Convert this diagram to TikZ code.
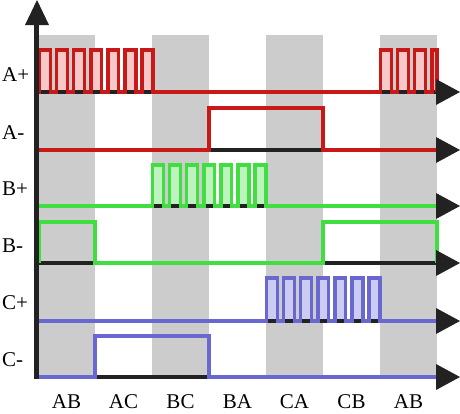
\documentclass[tikz,border=0pt]{standalone}
\usepackage{fontspec}
\setmainfont{Liberation Serif}
\definecolor{bandgray}{RGB}{204,204,204}
\definecolor{axisblack}{RGB}{34,34,34}
\definecolor{sigred}{RGB}{200,24,24}
\definecolor{redfill}{RGB}{248,200,200}
\definecolor{siggreen}{RGB}{64,222,64}
\definecolor{greenfill}{RGB}{190,242,190}
\definecolor{sigblue}{RGB}{104,104,208}
\definecolor{bluefill}{RGB}{204,204,242}
\begin{document}
\begin{tikzpicture}[x=1pt,y=-1pt,
  band/.style={fill=bandgray},
  axisline/.style={draw=axisblack,line width=4.5pt},
  baseblack/.style={draw=axisblack,line width=3.5pt},
  sig/.style={line width=3.5pt,line join=miter},
  tiphead/.style={fill=axisblack},
  lbl/.style={font=\fontsize{21}{21}\selectfont,inner sep=0pt,anchor=base west},
  tlbl/.style={font=\fontsize{21}{21}\selectfont,inner sep=0pt,anchor=base}]
\useasboundingbox (0,0) rectangle (460,413);
% gray bands
\foreach \x in {38,152,266,380} \fill[band] (\x,35) rectangle ++(57,343);
% pulse fills
\foreach \i in {0,...,6} {
  \fill[redfill] ({39.5+17.1*\i},92) rectangle ++(10.8,-42);
  \fill[greenfill] ({152.5+17.1*\i},206) rectangle ++(10.8,-41);
  \fill[bluefill] ({266.5+17.1*\i},321) rectangle ++(10.8,-43);
}
\foreach \i in {0,...,2} \fill[redfill] ({380.5+17.1*\i},92) rectangle ++(10.8,-42);
\fill[redfill] (431.8,92) rectangle (437,50);
% black baselines
\foreach \b in {92,150,206,263,321,377} \draw[baseblack] (38,\b) -- (437,\b);
% A+
\draw[sig,sigred] (38,92)
  \foreach \i in {0,...,6} { -- ({39.5+17.1*\i},92) -- ++(0,-42) -- ++(10.8,0) -- ++(0,42) }
  \foreach \i in {0,...,2} { -- ({380.5+17.1*\i},92) -- ++(0,-42) -- ++(10.8,0) -- ++(0,42) }
  -- (431.8,92) -- (431.8,50) -- (437,50) -- (437,92);
% A-
\draw[sig,sigred] (38,150) -- (209,150) -- (209,108) -- (323,108) -- (323,150) -- (437,150);
% B+
\draw[sig,siggreen] (38,206)
  \foreach \i in {0,...,6} { -- ({152.5+17.1*\i},206) -- ++(0,-41) -- ++(10.8,0) -- ++(0,41) }
  -- (437,206);
% B-
\draw[sig,siggreen] (39.5,263) -- (39.5,222) -- (95,222) -- (95,263) -- (323,263) -- (323,222) -- (437,222) -- (437,263);
% C+
\draw[sig,sigblue] (38,321)
  \foreach \i in {0,...,6} { -- ({266.5+17.1*\i},321) -- ++(0,-43) -- ++(10.8,0) -- ++(0,43) }
  -- (437,321);
% C-
\draw[sig,sigblue] (38,377) -- (95,377) -- (95,336) -- (209,336) -- (209,377) -- (437,377);
% arrow heads
\foreach \b in {92,150,206,263,321,377} \fill[tiphead] (436,\b-13) -- (460,\b) -- (436,\b+13) -- cycle;
% vertical axis
\draw[axisline] (36.5,379) -- (36.5,22);
\fill[tiphead] (25,25) -- (37,0) -- (49,25) -- cycle;
% lane labels
\node[lbl] (lap) at (2,81) {A+};
\node[lbl] (lam) at (2,139) {A-};
\node[lbl] (lbp) at (2,195) {B+};
\node[lbl] (lbm) at (2,252) {B-};
\node[lbl] (lcp) at (2,309) {C+};
\node[lbl] (lcm) at (2,366) {C-};
% step labels
\node[tlbl] (s1) at (66.5,408) {AB};
\node[tlbl] (s2) at (123.5,408) {AC};
\node[tlbl] (s3) at (180.5,408) {BC};
\node[tlbl] (s4) at (237.5,408) {BA};
\node[tlbl] (s5) at (294.5,408) {CA};
\node[tlbl] (s6) at (351.5,408) {CB};
\node[tlbl] (s7) at (408.5,408) {AB};
\end{tikzpicture}
\end{document}
